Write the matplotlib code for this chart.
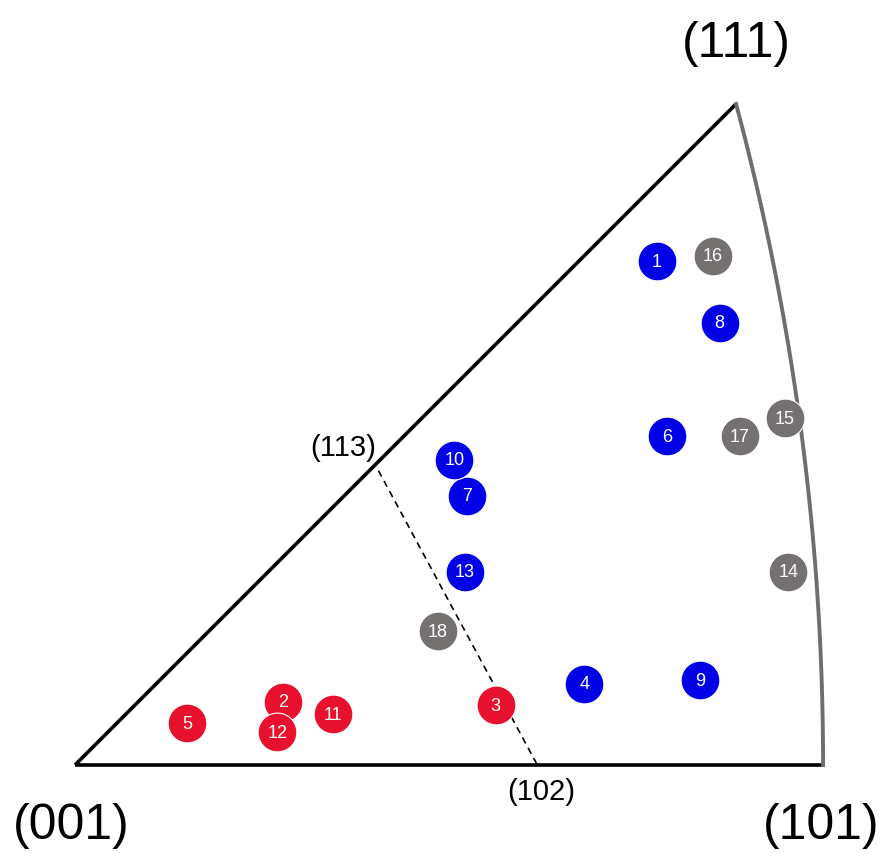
import numpy as np
import matplotlib.pyplot as plt

# stereographic coordinates of each grain (001 at origin)
GRAIN_ID = [1, 2, 3, 4, 5, 6, 7, 8, 9, 10, 11, 12, 13, 14, 15, 16, 17, 18]
GRAIN_X = [0.322, 0.115, 0.233, 0.282, 0.062, 0.328, 0.217, 0.357, 0.346,
           0.210, 0.143, 0.112, 0.216, 0.395, 0.393, 0.353, 0.368, 0.201]
GRAIN_Y = [0.279, 0.035, 0.033, 0.045, 0.023, 0.182, 0.149, 0.245, 0.047,
           0.169, 0.028, 0.018, 0.107, 0.107, 0.192, 0.282, 0.182, 0.074]
GRAIN_GROUP = ["blue", "red", "red", "blue", "red", "blue", "blue", "blue", "blue",
               "blue", "red", "red", "blue", "gray", "gray", "gray", "gray", "gray"]
GROUP_COLORS = {"blue": "#0000e6", "red": "#e8112d", "gray": "#767171"}

# dashed boundary between (113) and (102) as drawn on the figure
BOUNDARY_X = [0.168, 0.256]
BOUNDARY_Y = [0.163, 0.0]


def stereo(v):
    v = np.asarray(v, dtype=float)
    v = v / np.linalg.norm(v)
    return v[0] / (1 + v[2]), v[1] / (1 + v[2])


plt.rcParams["font.family"] = ["Liberation Sans", "DejaVu Sans"]

scale = 1806.0  # px per stereographic unit in the target image
fig = plt.figure(figsize=(8.83, 8.54), dpi=100)
ax = fig.add_axes([0, 0, 1, 1])
ax.set_xlim(-75 / scale, (883 - 75) / scale)
ax.set_ylim(-(854 - 766) / scale, 766 / scale)
ax.axis("off")

p001 = stereo([0, 0, 1])
p101 = stereo([1, 0, 1])
p111 = stereo([1, 1, 1])

# straight edges
ax.plot([p001[0], p111[0]], [p001[1], p111[1]], color="black", lw=2.6, solid_capstyle="butt", zorder=2)
ax.plot([p001[0], p101[0]], [p001[1], p101[1]], color="black", lw=2.6, solid_capstyle="butt", zorder=2)

# great circle arc (101)-(111): circle centre (-1, 0), radius sqrt(2)
a_end = np.arctan2(p111[1], p111[0] + 1)
theta = np.linspace(0, a_end, 100)
ax.plot(-1 + np.sqrt(2) * np.cos(theta), np.sqrt(2) * np.sin(theta), color="#6e6e6e", lw=2.8, zorder=2)

ax.plot(BOUNDARY_X, BOUNDARY_Y, color="black", lw=1.2, ls=(0, (4, 3)), zorder=2)

for gid, x, y, grp in zip(GRAIN_ID, GRAIN_X, GRAIN_Y, GRAIN_GROUP):
    ax.scatter([x], [y], s=780, color=GROUP_COLORS[grp], edgecolors="white", linewidths=0.8, zorder=3 + gid * 0.01)
    ax.text(x, y, str(gid), color="white", fontsize=13, ha="center", va="center", zorder=4 + gid * 0.01)

big = dict(fontsize=36, ha="center", va="center", textcoords="offset points")
ax.annotate("(111)", p111, xytext=(0, 44), **big)
ax.annotate("(001)", p001, xytext=(-3, -43), **big)
ax.annotate("(101)", p101, xytext=(-1, -43), **big)
ax.annotate("(113)", (BOUNDARY_X[0], BOUNDARY_Y[0]), xytext=(-25, 17), fontsize=21, ha="center", va="center",
            textcoords="offset points")
ax.annotate("(102)", (BOUNDARY_X[1], BOUNDARY_Y[1]), xytext=(3, -19), fontsize=21, ha="center", va="center",
            textcoords="offset points")

fig.savefig("out.png", dpi=100)
